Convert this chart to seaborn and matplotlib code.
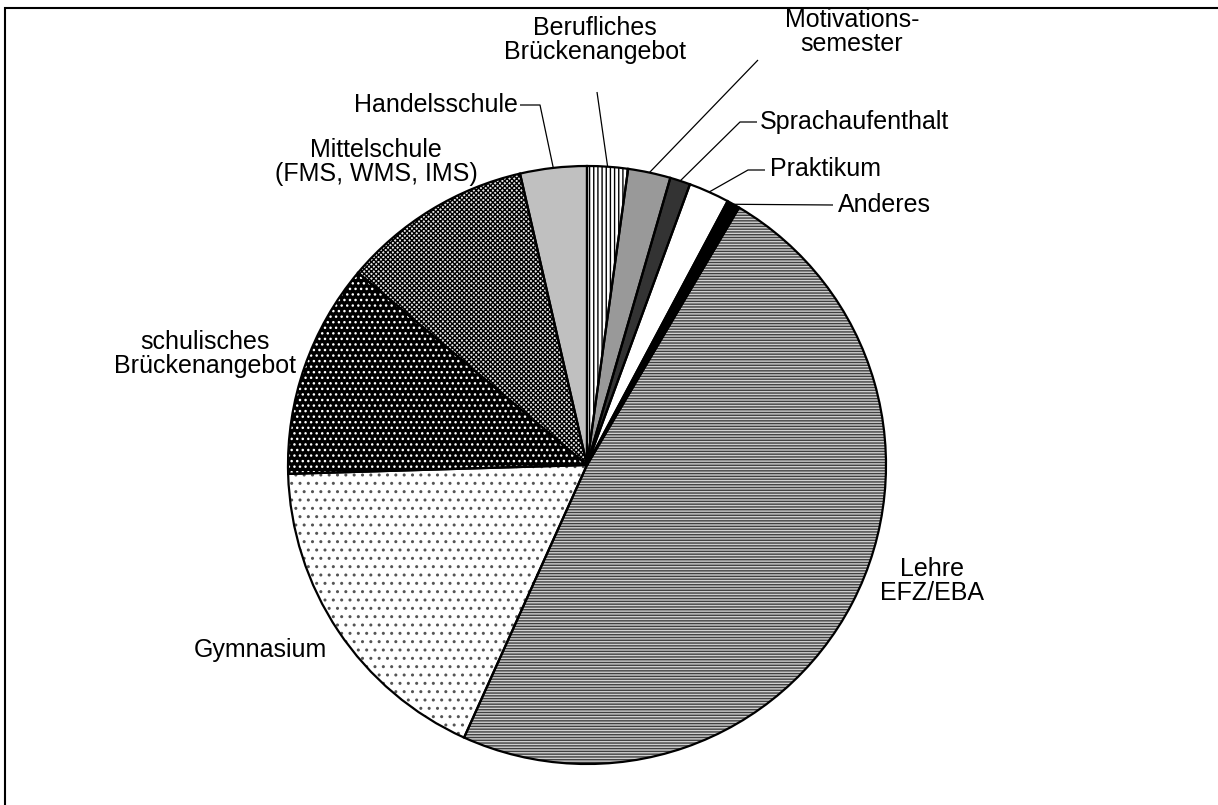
import numpy as np
import matplotlib
matplotlib.use("Agg")
import matplotlib.pyplot as plt
import seaborn as sns

# Anschlusslösungen (Anteil in %), im Uhrzeigersinn ab 12 Uhr
labels = ["Berufliches\nBrückenangebot", "Motivations-\nsemester", "Sprachaufenthalt",
          "Praktikum", "Anderes", "Lehre\nEFZ/EBA", "Gymnasium",
          "schulisches\nBrückenangebot", "Mittelschule\n(FMS, WMS, IMS)", "Handelsschule"]
shares = [2.2, 2.3, 1.1, 2.2, 0.7, 48.3, 17.8, 11.6, 10.3, 3.6]

# fill, hatch colour, hatch pattern per slice
faces = ["white", "#999999", "#333333", "white", "black", "#d0d0d0", "white", "black", "#e8e8e8", "#c0c0c0"]
hatch_cols = ["black", "#999999", "#333333", "white", "black", "#404040", "#555555", "white", "black", "#c0c0c0"]
hatches = ["||||", None, None, None, None, "------", "..", "...", "xxxxxxx", None]

sns.set_theme(style="white")
plt.rcParams["font.family"] = ["Liberation Sans", "DejaVu Sans"]
plt.rcParams["hatch.linewidth"] = 1.0

W, H = 1218, 805
fig = plt.figure(figsize=(W / 100, H / 100), dpi=100)
ax = fig.add_axes([0, 0, 1, 1])
ax.set_xlim(0, W)
ax.set_ylim(0, H)
ax.set_aspect("equal")
ax.axis("off")


def px(x, y):
    # pixel position (y downwards) -> data coords
    return x, H - y


cx, cy = px(587, 465)
R = 299

# fill + hatch layer
wedges, _ = ax.pie(shares, startangle=90, counterclock=False, center=(cx, cy), radius=R,
                   colors=faces, wedgeprops=dict(linewidth=0))
for w, hc, ht in zip(wedges, hatch_cols, hatches):
    w.set_edgecolor(hc)
    if ht:
        w.set_hatch(ht)

# outline layer
outl, _ = ax.pie(shares, startangle=90, counterclock=False, center=(cx, cy), radius=R,
                 wedgeprops=dict(fill=False, edgecolor="black", linewidth=1.6))
ax.set_xlim(0, W)
ax.set_ylim(0, H)


def edge_point(w):
    th = np.deg2rad((w.theta1 + w.theta2) / 2)
    return cx + R * np.cos(th), cy + R * np.sin(th)


fs = 18
txt = dict(fontsize=fs, color="black", linespacing=1.05, zorder=6)

# label positions in pixels (anchor, alignment) and leader start / kink points
label_pos = [
    ((595, 40), "center", [(597, 92)]),
    ((852, 32), "center", [(758, 60)]),
    ((760, 122), "left", [(757, 122), (740, 122)]),
    ((770, 169), "left", [(765, 170), (748, 170)]),
    ((838, 205), "left", [(833, 205)]),
    ((932, 581), "center", None),
    ((260, 650), "center", None),
    ((205, 354), "center", None),
    ((376, 162), "center", None),
    ((518, 105), "right", [(520, 105), (540, 105)]),
]

for w, lab, (pos, ha, leader) in zip(wedges, labels, label_pos):
    ax.text(*px(*pos), lab, ha=ha, va="center", multialignment="center", **txt)
    if leader:
        pts = [px(*p) for p in leader] + [edge_point(w)]
        xs, ys = zip(*pts)
        ax.plot(xs, ys, color="black", linewidth=0.9, solid_capstyle="butt")

# outer frame (only top and left edge lie inside the image)
fig.patches.append(plt.Rectangle((5 / W, 1 - 797 / H - 0.05), 1.2, 797 / H + 0.05 - 8 / H,
                                 transform=fig.transFigure, fill=False,
                                 edgecolor="black", linewidth=1.5))

fig.savefig("out.png", dpi=100)
